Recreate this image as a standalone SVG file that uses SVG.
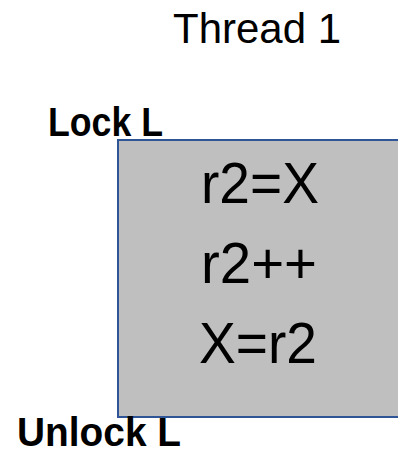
<svg xmlns="http://www.w3.org/2000/svg" width="398" height="455" viewBox="0 0 398 455">
  <style>
    .title { font-family: "Liberation Sans", Arial, sans-serif; font-size: 42px; fill: #000; }
    .lbl { font-family: "Liberation Sans", Arial, sans-serif; font-size: 41px; font-weight: bold; fill: #000; }
    .code { font-family: "Liberation Sans", Arial, sans-serif; font-size: 57px; fill: #000; }
    .box { fill: #BFBFBF; stroke: #2F5597; stroke-width: 2; }
  </style>
  <rect width="398" height="455" fill="#FFFFFF"/>
  <g id="thread-title">
    <text class="title" x="173" y="43" textLength="168" lengthAdjust="spacingAndGlyphs">Thread 1</text>
  </g>
  <g id="lock">
    <text class="lbl" x="48" y="136" textLength="115" lengthAdjust="spacingAndGlyphs">Lock L</text>
  </g>
  <g id="critical-section">
    <rect class="box" x="118" y="140" width="300" height="277"/>
    <text class="code" x="201" y="203" textLength="118" lengthAdjust="spacingAndGlyphs">r2=X</text>
    <text class="code" x="201" y="283" textLength="116" lengthAdjust="spacingAndGlyphs">r2++</text>
    <text class="code" x="199" y="363" textLength="118" lengthAdjust="spacingAndGlyphs">X=r2</text>
  </g>
  <g id="unlock">
    <text class="lbl" x="17" y="446" font-size="40" textLength="164" lengthAdjust="spacingAndGlyphs">Unlock L</text>
  </g>
  <g id="connectors"/>
</svg>
